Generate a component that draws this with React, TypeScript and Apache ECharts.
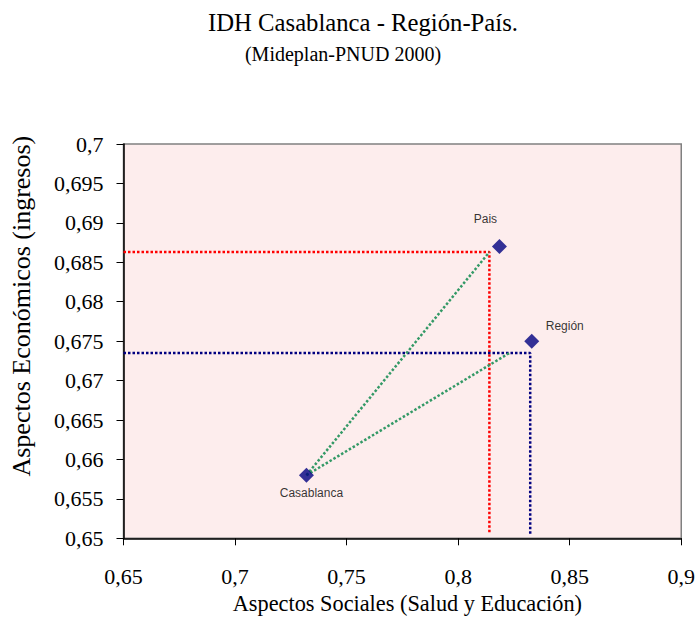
import React, { useEffect, useRef } from "react";
import * as echarts from "echarts";

const pointNames = ["Pais", "Región", "Casablanca"];
const socialValues = [0.8185, 0.833, 0.732];
const economicValues = [0.687, 0.675, 0.658];

const paisGuideX = [0.65, 0.814, 0.814];
const paisGuideY = [0.6863, 0.6863, 0.6505];
const regionGuideX = [0.65, 0.8323, 0.8323];
const regionGuideY = [0.6735, 0.6735, 0.6505];
const greenLineAX = [0.732, 0.814];
const greenLineAY = [0.658, 0.6863];
const greenLineBX = [0.732, 0.823];
const greenLineBY = [0.658, 0.6735];

const labelOffsets: Record<string, number[]> = {
  Pais: [-14, -28],
  "Región": [33, -15],
  Casablanca: [5, 18],
};

const zip = (xs: number[], ys: number[]) => xs.map((x, i) => [x, ys[i]]);
const fmt = (v: number) => String(Number(v.toFixed(3))).replace(".", ",");

export default function App() {
  const ref = useRef<HTMLDivElement>(null);
  useEffect(() => {
    const chart = echarts.init(ref.current!, null, { renderer: "svg" });
    const serif = "Liberation Serif";
    const guide = (name: string, xs: number[], ys: number[], color: string) => ({
      name,
      type: "line",
      data: zip(xs, ys),
      symbol: "none",
      silent: true,
      lineStyle: { color, width: 2.5, type: [2.5, 2] },
      z: 2,
    });
    chart.setOption({
      animation: false,
      backgroundColor: "#ffffff",
      title: [
        {
          text: "IDH Casablanca - Región-País.",
          left: 358,
          top: 5,
          textAlign: "center",
          textStyle: { fontFamily: serif, fontSize: 24.7, fontWeight: "normal", color: "#000" },
        },
        {
          text: "(Mideplan-PNUD 2000)",
          left: 338,
          top: 39,
          textAlign: "center",
          textStyle: { fontFamily: serif, fontSize: 20, fontWeight: "normal", color: "#000" },
        },
      ],
      grid: {
        left: 123.5,
        right: 16,
        top: 144,
        bottom: 105.7,
        show: true,
        backgroundColor: "#fdeded",
        borderColor: "#808080",
        borderWidth: 1.5,
      },
      xAxis: {
        type: "value",
        min: 0.65,
        max: 0.9,
        interval: 0.05,
        name: "Aspectos Sociales (Salud y Educación)",
        nameLocation: "middle",
        nameGap: 54,
        nameTextStyle: { fontFamily: serif, fontSize: 22.3, color: "#000", padding: [0, 0, 0, 10] },
        axisLine: { show: true, lineStyle: { color: "#000", width: 1.5 } },
        axisTick: { show: true, length: 7, lineStyle: { color: "#000" } },
        axisLabel: { fontFamily: serif, fontSize: 22, color: "#000", margin: 27, formatter: fmt },
        splitLine: { show: false },
      },
      yAxis: {
        type: "value",
        min: 0.65,
        max: 0.7,
        interval: 0.005,
        name: "Aspectos Económicos (ingresos)",
        nameLocation: "middle",
        nameGap: 89,
        nameTextStyle: { fontFamily: serif, fontSize: 26, color: "#000", padding: [0, 0, 0, 70] },
        axisLine: { show: true, lineStyle: { color: "#000", width: 1.5 } },
        axisTick: { show: true, length: 7, lineStyle: { color: "#000" } },
        axisLabel: { fontFamily: serif, fontSize: 22, color: "#000", margin: 20, formatter: fmt },
        splitLine: { show: false },
      },
      series: [
        guide("paisGuide", paisGuideX, paisGuideY, "#ff0000"),
        guide("regionGuide", regionGuideX, regionGuideY, "#000080"),
        guide("greenA", greenLineAX, greenLineAY, "#339966"),
        guide("greenB", greenLineBX, greenLineBY, "#339966"),
        {
          name: "IDH",
          type: "scatter",
          symbol: "diamond",
          symbolSize: 15,
          itemStyle: { color: "#000080" },
          z: 5,
          data: pointNames.map((n, i) => ({
            name: n,
            value: [socialValues[i], economicValues[i]],
            label: {
              show: true,
              position: "inside",
              offset: labelOffsets[n],
              formatter: n,
              fontFamily: "Liberation Sans",
              fontSize: 12,
              color: "#000",
            },
          })),
        },
      ],
    });
    return () => chart.dispose();
  }, []);
  return (
    <div
      ref={ref}
      style={{ position: "fixed", left: 0, top: 0, width: 698, height: 644 }}
    />
  );
}
